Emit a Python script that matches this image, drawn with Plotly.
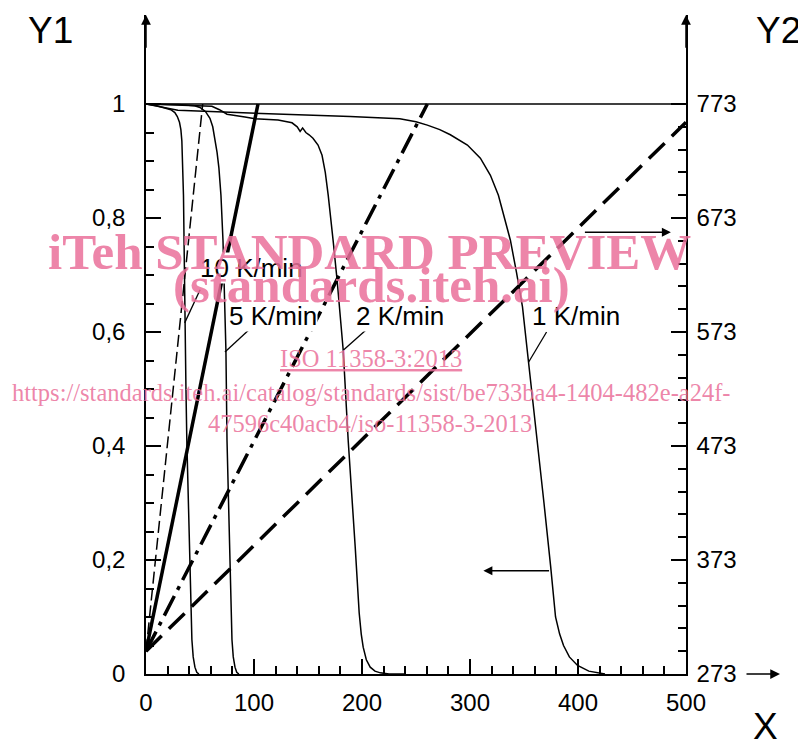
import plotly.graph_objects as go

# ---------------- data ----------------
# mass-loss curves (Y1)
m10_x = [0, 10, 17.4, 23, 26.7, 29, 31, 32.3, 33.2, 34, 34.7, 35.3, 36, 37, 37.8, 39.3, 40.6, 41.6, 42.5, 43.7, 45.3, 47, 49]
m10_y = [1.0, 0.997, 0.993, 0.99, 0.985, 0.978, 0.968, 0.955, 0.935, 0.9, 0.84, 0.75, 0.616, 0.5, 0.41, 0.28, 0.165, 0.1, 0.06, 0.03, 0.012, 0.003, 0]

m5_x = [0, 30, 45, 50, 55, 59.2, 61.8, 63.8, 65.8, 67.5, 69.4, 71.3, 72.8, 74, 75, 76.5, 77.7, 78.7, 79.6, 80.8, 82.4, 84, 86]
m5_y = [1.0, 0.999, 0.997, 0.994, 0.987, 0.975, 0.96, 0.94, 0.915, 0.888, 0.84, 0.76, 0.66, 0.568, 0.41, 0.28, 0.165, 0.1, 0.06, 0.03, 0.012, 0.003, 0]

m2_x = [0, 40, 61, 68, 75, 91.6, 100.9, 122.3, 135.2, 140, 142.7, 145, 148, 151, 154.6, 159.3, 163, 166, 168.7, 173.3, 177, 182.6, 187.2, 193.7, 197.4, 199.3, 201.1, 204, 207.6, 212, 217, 225, 240]
m2_y = [1.0, 0.998, 0.996, 0.99, 0.982, 0.977, 0.974, 0.972, 0.967, 0.96, 0.952, 0.958, 0.95, 0.946, 0.94, 0.928, 0.91, 0.88, 0.84, 0.76, 0.69, 0.568, 0.41, 0.223, 0.107, 0.07, 0.047, 0.025, 0.012, 0.005, 0.002, 0.0, 0]

m1_x = [0, 29.5, 96, 150, 189, 235, 250, 260.5, 272, 281.8, 297.6, 309.6, 318.9, 326.3, 332, 337.4, 343, 348.6, 354.2, 362.5, 368.5, 374.6, 379.2, 383, 386.6, 392, 399.6, 410, 425]
m1_y = [1.0, 0.989, 0.984, 0.981, 0.978, 0.974, 0.969, 0.963, 0.955, 0.946, 0.928, 0.905, 0.875, 0.84, 0.8, 0.761, 0.705, 0.644, 0.547, 0.41, 0.3, 0.19, 0.1, 0.07, 0.05, 0.03, 0.015, 0.005, 0]

# temperature programmes (Y2, K)
t10_x = [0, 52.5]
t10_y = [293, 773]
t5_x = [0, 103.7]
t5_y = [293, 773]
t2_x = [0, 260.5]
t2_y = [293, 773]
t1_x = [0, 500]
t1_y = [293, 757]

# reference line at Y1 = 1
top_x = [0, 500]
top_y = [1, 1]

x_major = [0, 100, 200, 300, 400, 500]
x_minor = [v for v in range(20, 500, 20) if v % 100 != 0]
y1_major = [0, 0.2, 0.4, 0.6, 0.8, 1.0]
y1_minor = [round(0.05 * i, 2) for i in range(1, 20) if i % 4 != 0]
y2_major = [273, 373, 473, 573, 673, 773]
y2_minor = [v for v in range(293, 773, 20) if (v - 273) % 100 != 0]

rate_labels = ["10 K/min", "5 K/min", "2 K/min", "1 K/min"]
rate_label_x = [97.5, 117.7, 235.4, 397.7]
rate_label_y = [0.712, 0.628, 0.628, 0.628]
leader_x0 = [50.1, 95.4, 205.8, 370.9]
leader_y0 = [0.674, 0.604, 0.607, 0.600]
leader_x1 = [35.8, 73.1, 182.6, 354.2]
leader_y1 = [0.616, 0.565, 0.568, 0.547]

# ---------------- figure ----------------
R = 659 / 570.0  # Y1 range top so the axes extend above 1
fig = go.Figure()

thin = dict(color="black", width=1.5)
for xs, ys in [(m10_x, m10_y), (m5_x, m5_y), (m2_x, m2_y), (m1_x, m1_y), (top_x, top_y)]:
    fig.add_trace(go.Scatter(x=xs, y=ys, mode="lines", line=thin, showlegend=False, hoverinfo="skip"))

fig.add_trace(go.Scatter(x=t10_x, y=t10_y, yaxis="y2", mode="lines",
                         line=dict(color="black", width=1.5, dash="12px,5px"), showlegend=False))
fig.add_trace(go.Scatter(x=t5_x, y=t5_y, yaxis="y2", mode="lines",
                         line=dict(color="black", width=3.5), showlegend=False))
fig.add_trace(go.Scatter(x=t2_x, y=t2_y, yaxis="y2", mode="lines",
                         line=dict(color="black", width=3.5, dash="22px,7px,4px,7px"), showlegend=False))
fig.add_trace(go.Scatter(x=t1_x, y=t1_y, yaxis="y2", mode="lines",
                         line=dict(color="black", width=3.5, dash="22px,10px"), showlegend=False))

tickfont = dict(family="Liberation Sans Narrow, Arial Narrow, Liberation Sans, Arial, sans-serif", size=24, color="black")

axis_common = dict(showline=True, linecolor="black", linewidth=1.5, ticks="inside", ticklen=15,
                   tickwidth=1.5, tickcolor="black", showgrid=False, zeroline=False, tickfont=tickfont)

# page body has an 8 px margin, so the figure is 798x739 placed at (8, 8)
fig.update_layout(
    width=798, height=739, autosize=False,
    margin=dict(l=138, r=120, t=7, b=73, autoexpand=False),
    paper_bgcolor="white", plot_bgcolor="white",
    separators=",.",
    xaxis=dict(range=[0, 500], tickmode="array", tickvals=x_major, ticklabelstandoff=6,
               minor=dict(ticks="inside", ticklen=8, tickwidth=1.5, tickcolor="black",
                          tickmode="array", tickvals=x_minor),
               **axis_common),
    yaxis=dict(range=[0, R], tickmode="array", tickvals=y1_major, ticklabelstandoff=14,
               minor=dict(ticks="inside", ticklen=8, tickwidth=1.5, tickcolor="black",
                          tickmode="array", tickvals=y1_minor),
               **axis_common),
    yaxis2=dict(range=[273, 273 + 500 * R], overlaying="y", side="right", anchor="x",
                tickmode="array", tickvals=y2_major, ticklabelstandoff=4,
                minor=dict(ticks="inside", ticklen=8, tickwidth=1.5, tickcolor="black",
                           tickmode="array", tickvals=y2_minor),
                **axis_common),
)

# leader lines
for i in range(len(rate_labels)):
    fig.add_shape(type="line", xref="x", yref="y", x0=leader_x0[i], y0=leader_y0[i],
                  x1=leader_x1[i], y1=leader_y1[i], line=dict(color="black", width=1.3))

# paper coords: plot area at screen px 146..686 horizontally, py 15..674 vertically
def px(xp):
    return (xp - 146) / 540.0
def py(yp):
    return (674 - yp) / 659.0

annots = []
labfont = dict(family="Liberation Sans, Arial, sans-serif", size=26, color="black")
for i, t in enumerate(rate_labels):
    annots.append(dict(x=rate_label_x[i], y=rate_label_y[i], xref="x", yref="y", text=t,
                       showarrow=False, font=labfont, bgcolor="white", borderpad=0))

# axis arrows
arrow_common = dict(showarrow=True, arrowhead=2, arrowsize=1.3, arrowwidth=1.5, arrowcolor="black", text="")
annots.append(dict(x=0, y=R, xref="x", yref="y", ax=0, ay=R - 0.06, axref="x", ayref="y", **arrow_common))
annots.append(dict(x=500, y=R, xref="x", yref="y", ax=500, ay=R - 0.06, axref="x", ayref="y", **arrow_common))
annots.append(dict(x=px(780), y=0, xref="paper", yref="paper", ax=-35, ay=0, **arrow_common))
# indicator arrows
annots.append(dict(x=486, y=0.775, xref="x", yref="y", ax=405, ay=0.775, axref="x", ayref="y",
                   showarrow=True, arrowhead=2, arrowsize=1.2, arrowwidth=1.5, arrowcolor="black", text=""))
annots.append(dict(x=312.4, y=0.181, xref="x", yref="y", ax=374.6, ay=0.181, axref="x", ayref="y",
                   showarrow=True, arrowhead=2, arrowsize=1.2, arrowwidth=1.5, arrowcolor="black", text=""))

# axis titles
titlefont = dict(family="Liberation Sans Narrow, Arial Narrow, Liberation Sans, Arial, sans-serif", size=37, color="black")
annots.append(dict(x=px(50), y=py(31), xref="paper", yref="paper", text="Y1", showarrow=False,
                   font=titlefont, xanchor="center", yanchor="middle"))
annots.append(dict(x=px(778), y=py(31), xref="paper", yref="paper", text="Y2", showarrow=False,
                   font=titlefont, xanchor="center", yanchor="middle"))
annots.append(dict(x=px(765), y=py(727), xref="paper", yref="paper", text="X", showarrow=False,
                   font=titlefont, xanchor="center", yanchor="middle"))

wm = "rgba(234,112,154,0.85)"
wm_bold = dict(family="Liberation Serif, Times New Roman, serif", size=51, color=wm)
wm_reg = dict(family="Liberation Serif, Times New Roman, serif", size=24.5, color=wm)
annots.append(dict(x=px(369), y=py(222), xref="paper", yref="paper", text="<b>iTeh STANDARD PREVIEW</b>",
                   showarrow=False, font=wm_bold))
annots.append(dict(x=px(371), y=py(285), xref="paper", yref="paper", text="<b>(standards.iteh.ai)</b>",
                   showarrow=False, font=wm_bold))
annots.append(dict(x=px(371), y=py(358), xref="paper", yref="paper", text="<u>ISO 11358-3:2013</u>",
                   showarrow=False, font=wm_reg))
annots.append(dict(x=px(371), y=py(392), xref="paper", yref="paper",
                   text="https://standards.iteh.ai/catalog/standards/sist/be733ba4-1404-482e-a24f-",
                   showarrow=False, font=wm_reg))
annots.append(dict(x=px(370), y=py(423), xref="paper", yref="paper", text="47596c40acb4/iso-11358-3-2013",
                   showarrow=False, font=wm_reg))

fig.update_layout(annotations=annots)
fig.write_html("out.html")
